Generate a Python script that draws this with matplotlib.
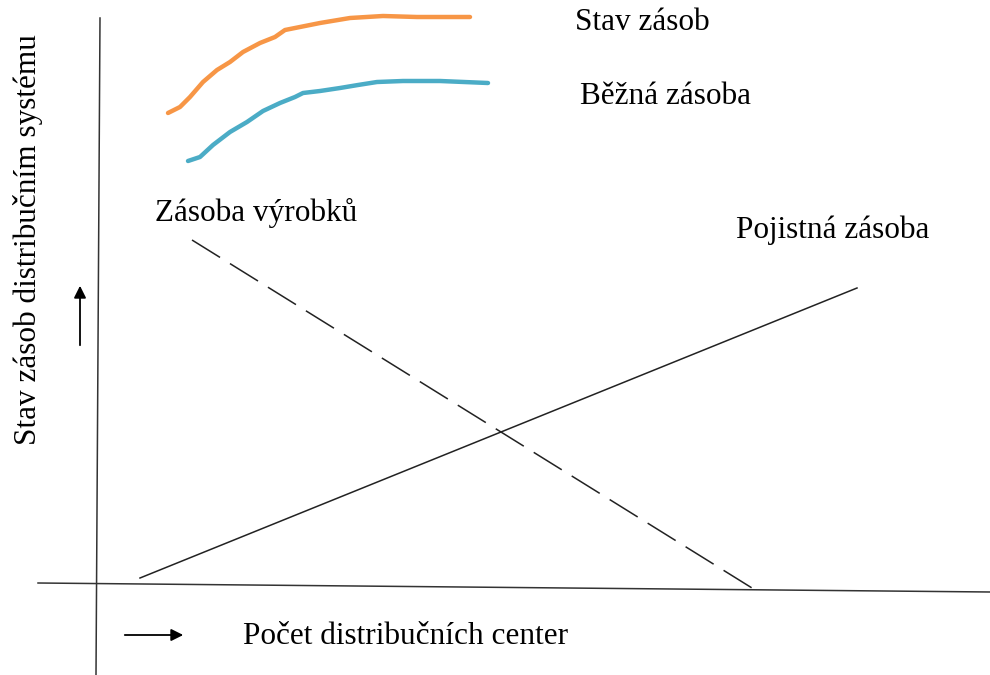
import matplotlib.pyplot as plt

# --- data (diagram coordinates, pixel-like units, y grows downward) ---
stav_x = [168, 180, 190, 203, 217, 230, 243, 260, 275, 285, 300, 320, 338, 350, 383, 417, 470]
stav_y = [113, 107, 97, 82, 70, 62, 52, 43, 37, 30, 27, 23, 20, 18, 16, 17, 17]

bezna_x = [188, 200, 213, 230, 247, 263, 280, 295, 303, 320, 340, 358, 377, 403, 440, 488]
bezna_y = [161, 157, 145, 132, 122, 111, 103, 97, 93, 91, 88, 85, 82, 81, 81, 83]

pojistna_x = [140, 857]
pojistna_y = [578, 288]

vyrobku_x = [192, 752]
vyrobku_y = [240, 588]

yaxis_x = [100, 96]
yaxis_y = [18, 675]
xaxis_x = [38, 990]
xaxis_y = [583, 592]

labels = {
    "stav": "Stav zásob",
    "bezna": "Běžná zásoba",
    "pojistna": "Pojistná zásoba",
    "vyrobku": "Zásoba výrobků",
    "xlabel": "Počet distribučních center",
    "ylabel": "Stav zásob distribučním systému",
}

plt.rcParams['font.family'] = ['Liberation Serif', 'DejaVu Serif']

fig = plt.figure(figsize=(9.9, 6.75), dpi=100)
ax = fig.add_axes([0, 0, 1, 1])
ax.set_xlim(0, 990)
ax.set_ylim(675, 0)
ax.axis('off')

# axes lines
ax.plot(yaxis_x, yaxis_y, color='#333333', lw=1.1)
ax.plot(xaxis_x, xaxis_y, color='#333333', lw=1.1)

# curves
ax.plot(stav_x, stav_y, color='#F79646', lw=3.2, solid_capstyle='round',
        solid_joinstyle='round')
ax.plot(bezna_x, bezna_y, color='#4BACC6', lw=3.2, solid_capstyle='round',
        solid_joinstyle='round')

# straight lines
ax.plot(pojistna_x, pojistna_y, color='#222222', lw=1.1)
ax.plot(vyrobku_x, vyrobku_y, color='#222222', lw=1.1, dashes=(21.6, 7.66))

fs = 22.5
ax.text(575, 22, labels["stav"], fontsize=fs, va='center', ha='left')
ax.text(580, 97, labels["bezna"], fontsize=fs, va='center', ha='left')
ax.text(736, 230, labels["pojistna"], fontsize=fs, va='center', ha='left')
ax.text(155, 213, labels["vyrobku"], fontsize=fs, va='center', ha='left')
ax.text(243, 636, labels["xlabel"], fontsize=fs, va='center', ha='left')
ax.text(28, 240, labels["ylabel"], fontsize=fs, va='center', ha='center', rotation=90)

# direction arrows
ax.annotate('', xy=(80, 283), xytext=(80, 348),
            arrowprops=dict(arrowstyle='-|>', color='black', lw=1.3, mutation_scale=18))
ax.annotate('', xy=(186, 635), xytext=(122, 635),
            arrowprops=dict(arrowstyle='-|>', color='black', lw=1.3, mutation_scale=18))

fig.savefig('out.png', dpi=100)
